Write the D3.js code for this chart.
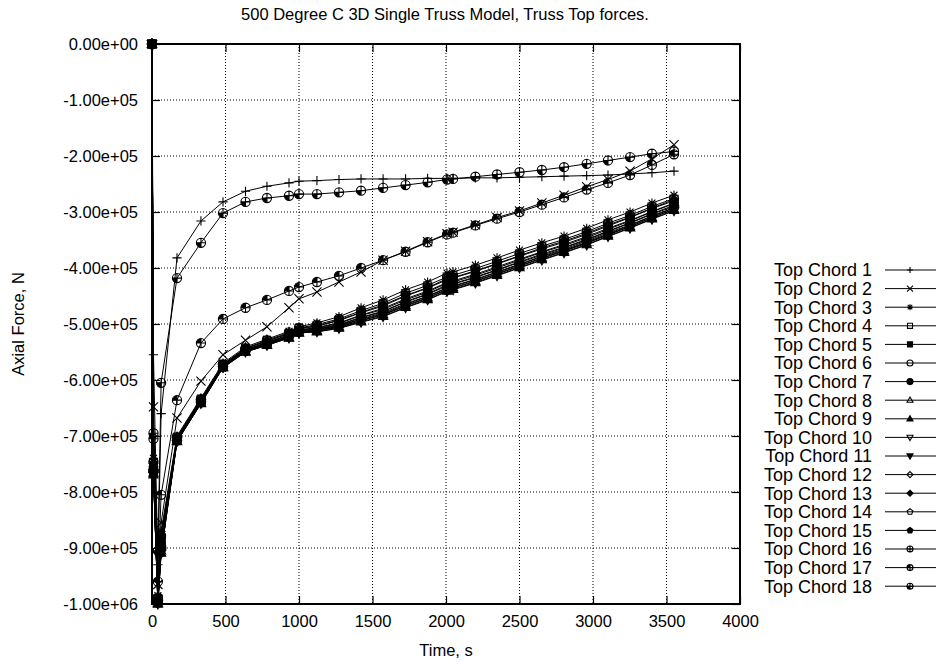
<!DOCTYPE html>
<html>
<head>
<meta charset="utf-8">
<script src="https://cdn.jsdelivr.net/npm/d3@7"></script>
<style>
  body { margin: 0; background: #fff; }
  svg text { font-family: "Liberation Sans", Arial, Helvetica, sans-serif; fill: #000; }
</style>
</head>
<body>
<svg id="chart" width="938" height="664"></svg>
<script>
// time steps (s) shared by every member
const times = [0, 10, 40, 62, 170, 333, 483, 636, 782, 932, 1000, 1122, 1272, 1422, 1572,
  1725, 1875, 2007, 2048, 2200, 2347, 2500, 2652, 2803, 2957, 3102, 3252, 3401, 3551]

// axial forces in kN
const chord1 = [0, -555, -930, -660, -382, -316, -282, -263, -254, -248, -245, -244, -242, -241, -241,
  -241, -240, -240, -240, -239, -239, -238, -237, -236, -235, -234, -232, -230, -227]
const chord2 = [0, -648, -965, -855, -668, -602, -555, -529, -505, -471, -455, -443, -425, -407, -386,
  -370, -353, -339, -336, -323, -310, -298, -284, -270, -255, -242, -227, -205, -180]
const chord3 = [0, -740, -985, -870, -700, -632, -570, -541, -527, -513, -505, -498, -487, -471, -457,
  -439, -425, -409, -407, -395, -382, -368, -355, -343, -329, -314, -300, -284, -270]
const chord4 = [0, -749, -990, -882, -703, -635, -572, -544, -530, -517, -508, -503, -493, -479, -466,
  -449, -435, -419, -417, -405, -392, -378, -364, -352, -338, -323, -309, -293, -278]
const chord5 = [0, -755, -993, -890, -705, -637, -574, -546, -533, -519, -511, -506, -498, -484, -472,
  -455, -441, -426, -423, -411, -398, -384, -371, -358, -344, -329, -315, -299, -284]
const chord6 = [0, -760, -995, -896, -707, -639, -575, -547, -534, -521, -512, -508, -501, -488, -477,
  -460, -446, -430, -428, -416, -403, -389, -375, -363, -349, -334, -319, -303, -288]
const chord7 = [0, -763, -997, -901, -708, -640, -576, -548, -536, -522, -514, -510, -503, -491, -480,
  -464, -450, -435, -432, -420, -407, -393, -379, -366, -352, -337, -323, -307, -292]
const chord8 = [0, -766, -998, -905, -709, -641, -577, -549, -537, -524, -515, -512, -505, -494, -483,
  -467, -453, -438, -435, -423, -410, -396, -382, -369, -355, -340, -326, -310, -295]
const chord9 = [0, -769, -1000, -909, -710, -642, -578, -550, -538, -525, -516, -514, -507, -496, -486,
  -470, -456, -441, -438, -426, -413, -399, -385, -372, -358, -343, -328, -312, -297]
const chord10 = [0, -770, -1000, -910, -710, -642, -578, -550, -538, -525, -516, -514, -508, -497, -487,
  -471, -457, -442, -439, -427, -414, -400, -386, -373, -359, -344, -329, -313, -298]
const chord11 = [0, -767, -999, -906, -709, -641, -577, -549, -537, -524, -515, -512, -506, -494, -484,
  -468, -454, -439, -436, -424, -411, -397, -383, -370, -356, -341, -326, -310, -295]
const chord12 = [0, -765, -997, -903, -708, -640, -577, -548, -536, -523, -514, -511, -504, -492, -482,
  -465, -451, -436, -433, -421, -408, -394, -380, -368, -354, -339, -324, -308, -293]
const chord13 = [0, -761, -996, -898, -707, -639, -576, -547, -535, -521, -513, -509, -502, -489, -478,
  -461, -447, -432, -429, -417, -404, -390, -377, -364, -350, -335, -320, -304, -290]
const chord14 = [0, -757, -993, -892, -706, -638, -574, -546, -533, -520, -511, -507, -499, -485, -474,
  -457, -443, -427, -425, -413, -400, -386, -372, -360, -346, -331, -316, -300, -285]
const chord15 = [0, -751, -990, -884, -704, -636, -573, -544, -531, -517, -509, -504, -494, -480, -468,
  -450, -436, -421, -418, -406, -393, -379, -366, -354, -340, -325, -310, -294, -280]
const chord16 = [0, -746, -988, -878, -702, -634, -572, -543, -529, -515, -507, -501, -491, -476, -463,
  -445, -431, -416, -413, -401, -388, -374, -361, -349, -335, -320, -306, -290, -276]
const chord17 = [0, -705, -960, -805, -636, -534, -491, -471, -457, -441, -434, -425, -414, -400, -386,
  -371, -354, -340, -337, -324, -312, -300, -287, -274, -260, -248, -234, -216, -197]
const chord18 = [0, -695, -905, -605, -418, -355, -302, -282, -275, -271, -268, -268, -265, -262, -257,
  -252, -247, -242, -241, -237, -233, -229, -225, -220, -214, -208, -202, -196, -192]

const chordValues = [chord1, chord2, chord3, chord4, chord5, chord6, chord7, chord8, chord9,
  chord10, chord11, chord12, chord13, chord14, chord15, chord16, chord17, chord18]
const markerTypes = ['plus', 'cross', 'star', 'square', 'squareF', 'circle', 'circleF', 'triUp', 'triUpF',
  'triDown', 'triDownF', 'diamond', 'diamondF', 'pentagon', 'pentagonF', 'c0', 'c1', 'c2']

const xTicks = [0, 500, 1000, 1500, 2000, 2500, 3000, 3500, 4000]
const yTicks = [0, -1e5, -2e5, -3e5, -4e5, -5e5, -6e5, -7e5, -8e5, -9e5, -1e6]

const series = chordValues.map((vals, i) => ({
  name: 'Top Chord ' + (i + 1),
  marker: markerTypes[i],
  points: vals.map((v, j) => ({ t: times[j], f: v * 1000 }))
}))

const margin = { left: 152, right: 740, top: 44, bottom: 604 }

const svg = d3.select('#chart')

const x = d3.scaleLinear().domain([0, 4000]).range([margin.left, margin.right])
const y = d3.scaleLinear().domain([-1e6, 0]).range([margin.bottom, margin.top])

// gnuplot style 0.00e+00, plain hyphen for minus
function sci(v) {
  const s = d3.format('.2e')(v).replace('\u2212', '-')
  return s.replace(/e([+-])(\d)$/, 'e$10$2')
}

// grid
const grid = svg.append('g')
grid.selectAll('.gx').data(xTicks.filter(d => d > 0 && d < 4000)).join('line')
  .attr('x1', d => x(d)).attr('x2', d => x(d))
  .attr('y1', margin.top).attr('y2', margin.bottom)
grid.selectAll('.gy').data(yTicks.filter(d => d < 0 && d > -1e6)).join('line')
  .attr('y1', d => y(d)).attr('y2', d => y(d))
  .attr('x1', margin.left).attr('x2', margin.right)
grid.selectAll('line')
  .attr('stroke', '#000')
  .attr('stroke-width', 1)
  .attr('stroke-dasharray', '1,2')

// axes, ticks pointing in
svg.append('g')
  .attr('transform', `translate(${margin.left},0)`)
  .call(d3.axisLeft(y).tickValues(yTicks).tickSize(-8).tickPadding(14).tickFormat(sci))
svg.append('g')
  .attr('transform', `translate(0,${margin.bottom})`)
  .call(d3.axisBottom(x).tickValues(xTicks).tickSize(-8).tickPadding(11).tickFormat(d3.format('d')))
svg.append('g')
  .attr('transform', `translate(${margin.right},0)`)
  .call(d3.axisRight(y).tickValues(yTicks).tickSize(-8).tickFormat(''))
svg.append('g')
  .attr('transform', `translate(0,${margin.top})`)
  .call(d3.axisTop(x).tickValues(xTicks).tickSize(-8).tickFormat(''))

svg.selectAll('.domain').remove()
svg.selectAll('.tick line').attr('stroke', '#000').attr('stroke-width', 1.2)
svg.selectAll('.tick text').attr('font-size', 16.5).attr('font-family', '"Liberation Sans", Arial, sans-serif')

svg.append('rect')
  .attr('x', margin.left).attr('y', margin.top)
  .attr('width', margin.right - margin.left).attr('height', margin.bottom - margin.top)
  .attr('fill', 'none').attr('stroke', '#000').attr('stroke-width', 2)

// marker shapes
function markerPath(type, r) {
  const circ = `M${r},0A${r},${r} 0 1,1 ${-r},0A${r},${r} 0 1,1 ${r},0Z`
  const s = r * 0.85
  const base = type.replace('F', '')
  if (base === 'plus') return `M${-r},0H${r}M0,${-r}V${r}`
  if (base === 'cross') return `M${-r},${-r}L${r},${r}M${-r},${r}L${r},${-r}`
  if (base === 'star') {
    const k = r * 0.75
    return `M${-r},0H${r}M0,${-r}V${r}M${-k},${-k}L${k},${k}M${-k},${k}L${k},${-k}`
  }
  if (base === 'square') return `M${-s},${-s}H${s}V${s}H${-s}Z`
  if (base === 'circle') return circ
  if (base === 'triUp') return `M0,${-r * 1.05}L${r},${r * 0.7}L${-r},${r * 0.7}Z`
  if (base === 'triDown') return `M0,${r * 1.05}L${r},${-r * 0.7}L${-r},${-r * 0.7}Z`
  if (base === 'diamond') return `M0,${-r}L${r},0L0,${r}L${-r},0Z`
  if (base === 'pentagon') {
    const pts = d3.range(5).map(k => {
      const a = -Math.PI / 2 + k * 2 * Math.PI / 5
      return [r * Math.cos(a), r * Math.sin(a)]
    })
    return 'M' + pts.map(p => p.join(',')).join('L') + 'Z'
  }
  if (base === 'c0' || base === 'c1' || base === 'c2') return circ + `M${-r},0H${r}M0,${-r}V${r}`
  return circ
}

function quarter(type, r) {
  if (type === 'c1') return `M0,0L0,${-r}A${r},${r} 0 0,0 ${-r},0Z`
  if (type === 'c2') return `M0,0L${-r},0A${r},${r} 0 0,0 0,${r}Z`
  return null
}

function drawMarker(g, type, r) {
  const filled = type.endsWith('F')
  g.append('path')
    .attr('d', markerPath(type, r))
    .attr('fill', filled ? '#000' : 'none')
    .attr('stroke', '#000')
    .attr('stroke-width', 1.1)
  const q = quarter(type, r)
  if (q) g.append('path').attr('d', q).attr('fill', '#000')
}

// data lines and points
const line = d3.line().x(d => x(d.t)).y(d => y(d.f))
const plot = svg.append('g')

series.forEach(s => {
  const sg = plot.append('g')
  sg.append('path')
    .attr('d', line(s.points))
    .attr('fill', 'none')
    .attr('stroke', '#000')
    .attr('stroke-width', 1)
  sg.selectAll('g.pt').data(s.points).join('g')
    .attr('class', 'pt')
    .attr('transform', d => `translate(${x(d.t)},${y(d.f)})`)
    .each(function () { drawMarker(d3.select(this), s.marker, 4.6) })
})

// legend
const legendTop = 270, legendStep = 18.6
const legend = svg.append('g')
series.forEach((s, i) => {
  const ly = legendTop + i * legendStep
  legend.append('text')
    .attr('x', 872).attr('y', ly).attr('dy', '0.35em')
    .attr('text-anchor', 'end').attr('font-size', 18)
    .text(s.name)
  legend.append('line')
    .attr('x1', 885).attr('x2', 936).attr('y1', ly).attr('y2', ly)
    .attr('stroke', '#000').attr('stroke-width', 1)
  drawMarker(legend.append('g').attr('transform', `translate(910,${ly})`), s.marker, 3)
})

// titles
svg.append('text')
  .attr('x', (margin.left + margin.right) / 2 - 1).attr('y', 20)
  .attr('text-anchor', 'middle').attr('font-size', 16.5)
  .text('500 Degree C 3D Single Truss Model, Truss Top forces.')

svg.append('text')
  .attr('x', (margin.left + margin.right) / 2).attr('y', 656)
  .attr('text-anchor', 'middle').attr('font-size', 16.5)
  .text('Time, s')

svg.append('text')
  .attr('transform', `translate(24,${(margin.top + margin.bottom) / 2}) rotate(-90)`)
  .attr('text-anchor', 'middle').attr('font-size', 16.5)
  .text('Axial Force, N')
</script>
</body>
</html>
